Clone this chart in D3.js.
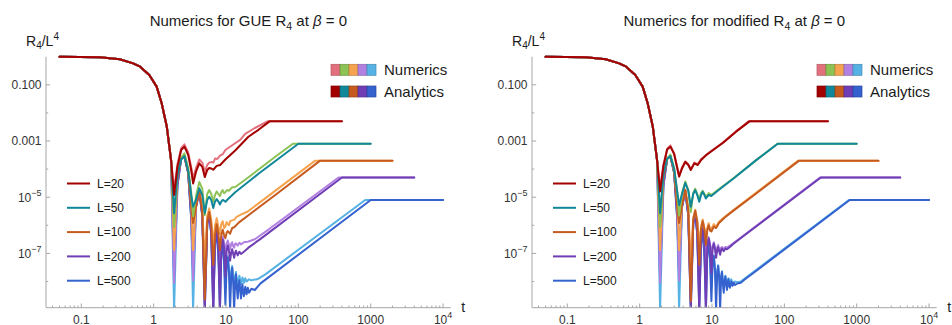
<!DOCTYPE html>
<html><head><meta charset="utf-8">
<script src="https://cdn.jsdelivr.net/npm/d3@7/dist/d3.min.js"></script>
<style>
html,body{margin:0;padding:0;background:#fff;}
svg text{font-family:"Liberation Sans",Arial,Helvetica,sans-serif;}
</style></head><body>
<svg id="chart" width="952" height="325"></svg>
<script>
// ---- data -------------------------------------------------------------
const sizes = [20, 50, 100, 200, 500];
const numericsColors  = ["#e3717d", "#8dc254", "#f6a34f", "#b180e0", "#56b2e4"];
const analyticsColors = ["#a30000", "#11879a", "#c55b1f", "#6f3eb4", "#3562cf"];

const xMajor  = [0.1, 1, 10, 100, 1000, 10000];
const xLabels = [["0.1", ""], ["1", ""], ["10", ""], ["100", ""], ["1000", ""], ["10", "4"]];
const yMajor  = [0.1, 0.001, 1e-5, 1e-7];
const yLabels = [["0.100", ""], ["0.001", ""], ["10", "\u22125"], ["10", "\u22127"]];
const yMinor  = [0.01, 1e-4, 1e-6, 1e-8];

// early-time decay, shared by every curve: [t, R4/L^4]
const head = [[0.05,1.0],[0.18,0.95],[0.34,0.81],[0.52,0.58],[0.65,0.44],[0.87,0.223],
  [1.10,0.086],[1.29,0.022],[1.52,3.2e-3],[1.74,2.1e-4]];

// GUE, numerics
const gueNum20 = [[1.916,1.8e-5],[2.13,1.5e-4],[2.4,5.6e-4],[2.66,7.6e-4],[3.0,3.9e-4],[3.3,1.2e-4],[3.508,4.7e-5],
  [3.85,1.1e-4],[4.27,2.2e-4],[4.7,1.7e-4],[5.087,8e-5],[5.5,1.4e-4],[5.86,1.7e-4],[6.36,1.8e-4],[6.7,1.7e-4],
  [7.07,2.4e-4],[7.6,2.3e-4],[8.28,3.0e-4],[9.0,3.4e-4],[9.8,4.8e-4],[12.6,7.5e-4],[15.7,1.1e-3],[18.4,1.8e-3],
  [25,2.9e-3],[34.7,4.5e-3],[37.5,5e-3],[400,5e-3]];
const gueNum50 = [[1.916,8.7e-7],[2.13,7e-5],[2.4,2.5e-4],[2.66,3.65e-4],[3.0,1.1e-4],[3.3,1.5e-5],[3.508,2.1e-6],
  [3.85,1.1e-5],[4.27,3.5e-5],[4.7,2e-5],[5.087,2.3e-6],[5.5,1.3e-5],[5.86,1.8e-5],[6.25,1.3e-5],[6.662,6.9e-6],
  [7.05,1.2e-5],[7.43,1.6e-5],[7.85,1.3e-5],[8.235,1.1e-5],[8.6,1.5e-5],[9.0,1.8e-5],[9.4,1.4e-5],[9.81,1.5e-5],
  [10.3,1.8e-5],[11,1.7e-5],[12,2.2e-5],[13.4,2.3e-5],[18.4,4.2e-5],[30,1.1e-4],[50,3e-4],[84,8e-4],[1000,8e-4]];
const gueNum100 = [[1.916,1.3e-7],[2.13,5.5e-5],[2.4,2.4e-4],[2.66,2.9e-4],[3.0,8.5e-5],[3.3,6e-6],[3.508,1.3e-7],
  [3.85,6e-6],[4.27,1.9e-5],[4.7,4.5e-6],[5.087,5e-8],[5.5,2.2e-6],[5.86,4e-6],[6.25,1.6e-6],[6.662,2e-7],[7.05,1e-6],
  [7.43,1.8e-6],[7.85,9e-7],[8.235,5e-7],[8.6,1.1e-6],[9.0,1.4e-6],[9.4,8e-7],[9.81,9e-7],[10.2,1.3e-6],[10.58,1.1e-6],
  [11.0,1e-6],[11.38,1.4e-6],[12.2,1.5e-6],[13,1.6e-6],[14,2.0e-6],[16,2.4e-6],[20,3.1e-6],[30,6.8e-6],[171,2e-4],[2000,2e-4]];
const gueNum200 = [[1.916,8.8e-9],[2.13,3.2e-5],[2.4,2.4e-4],[2.66,2.9e-4],[3.0,7.8e-5],[3.3,3e-6],[3.508,1.1e-8],
  [3.85,5e-6],[4.27,1.75e-5],[4.7,2.6e-6],[5.087,2e-9],[5.5,1.3e-6],[5.86,2.8e-6],[6.25,7e-7],[6.662,1e-8],[7.05,3.5e-7],
  [7.43,8e-7],[7.85,3e-7],[8.235,4e-8],[8.6,2.5e-7],[9.0,4e-7],[9.4,2.5e-7],[9.81,1e-7],[10.2,2.2e-7],[10.58,2.9e-7],
  [11.0,2e-7],[11.38,1.4e-7],[11.8,2.2e-7],[12.16,2.5e-7],[12.55,1.8e-7],[12.95,1.6e-7],[13.35,2.2e-7],[13.73,2.3e-7],
  [14.52,1.9e-7],[15.3,2.4e-7],[16.1,2.1e-7],[17.67,2.5e-7],[20,2.6e-7],[25,3.2e-7],[40,7.5e-7],[359,5e-5],[4000,5e-5]];
const gueNum500 = [[1.916,1e-9],[2.13,2.6e-5],[2.4,2.4e-4],[2.66,2.85e-4],[3.0,7.3e-5],[3.3,1.8e-6],[3.508,1e-9],
  [3.85,4.7e-6],[4.27,1.7e-5],[4.7,2.2e-6],[5.087,4e-9],[5.5,1.1e-6],[5.86,2.5e-6],[6.25,5e-7],[6.662,5e-9],[7.05,2.2e-7],
  [7.43,6.1e-7],[7.85,9e-8],[8.235,5e-9],[8.6,1e-7],[9.0,2e-7],[9.4,6e-8],[9.81,6e-9],[10.2,5e-8],[10.58,8e-8],[11.0,3e-8],
  [11.38,6e-9],[11.8,2.2e-8],[12.16,3.6e-8],[12.55,1.5e-8],[12.95,6e-9],[13.35,1.4e-8],[13.73,2.2e-8],[14.1,1e-8],
  [14.52,6e-9],[14.9,1.2e-8],[15.3,1.6e-8],[16.1,8e-9],[16.88,1.4e-8],[17.67,9e-9],[18.45,1.3e-8],[19.24,1e-8],
  [20.8,1.2e-8],[22.4,1.1e-8],[24,1.15e-8],[27,1.2e-8],[35,1.8e-8],[839,8e-6],[10000,8e-6]];

// GUE, analytics
const gueAna20 = [[1.916,1.2e-5],[2.13,1.2e-4],[2.4,4.8e-4],[2.66,6.3e-4],[3.0,3.2e-4],[3.3,9.3e-5],[3.508,3.1e-5],
  [3.85,8.1e-5],[4.27,1.6e-4],[4.7,1.2e-4],[5.087,5.2e-5],[5.5,9.3e-5],[5.86,1.1e-4],[6.25,1.05e-4],[6.66,9.5e-5],
  [7.43,1.3e-4],[8.3,1.4e-4],[9.8,2.2e-4],[13.4,4.6e-4],[20.4,1.42e-3],[28.1,2.5e-3],[40,5e-3],[400,5e-3]];
const gueAna50 = [[1.916,2.7e-6],[2.13,6.2e-5],[2.4,2.2e-4],[2.66,2.9e-4],[3.0,9e-5],[3.3,1.2e-5],[3.508,4.6e-6],
  [3.85,8e-6],[4.27,2.07e-5],[4.7,1.2e-5],[5.087,2.7e-6],[5.5,8e-6],[5.86,1.04e-5],[6.25,8e-6],[6.662,4.1e-6],[7.05,7e-6],
  [7.43,8.5e-6],[7.85,7e-6],[8.235,5.5e-6],[8.6,7e-6],[9.0,8e-6],[9.4,7.5e-6],[9.81,6.9e-6],[10.6,8.5e-6],[13.4,1.5e-5],
  [20,3.4e-5],[28.1,6.8e-5],[100,8e-4],[1000,8e-4]];
const gueAna100 = [[1.916,1.3e-6],[2.13,5e-5],[2.4,2.3e-4],[2.66,2.85e-4],[3.0,8e-5],[3.3,5e-6],[3.508,1.2e-6],
  [3.85,4.5e-6],[4.27,1.7e-5],[4.7,3e-6],[5.087,2.3e-9],[5.5,1.4e-6],[5.86,3e-6],[6.25,1e-6],[6.662,3.9e-8],[7.05,4.5e-7],
  [7.43,1.1e-6],[7.85,5e-7],[8.235,1.3e-7],[8.6,4.5e-7],[9.0,6.9e-7],[9.4,4.5e-7],[9.81,3.5e-7],[10.2,5.5e-7],
  [10.58,6.2e-7],[11.38,5e-7],[12.16,8e-7],[13,8.5e-7],[15,1.25e-6],[20,2.2e-6],[50,1.3e-5],[200,2e-4],[2000,2e-4]];
const gueAna200 = [[1.916,2e-7],[2.13,3e-5],[2.4,2.4e-4],[2.66,2.85e-4],[3.0,7.5e-5],[3.3,2.5e-6],[3.508,2e-7],
  [3.85,4.6e-6],[4.27,1.67e-5],[4.7,2.3e-6],[5.087,1e-9],[5.5,1.1e-6],[5.86,2.6e-6],[6.25,5.5e-7],[6.662,1e-9],[7.05,2.8e-7],
  [7.43,7e-7],[7.85,2e-7],[8.235,1e-9],[8.6,1.5e-7],[9.0,3.1e-7],[9.4,1.6e-7],[9.81,1.5e-8],[10.2,1.3e-7],[10.58,1.9e-7],
  [11.0,1.2e-7],[11.38,5.5e-8],[11.8,1.1e-7],[12.16,1.4e-7],[12.55,1e-7],[12.95,7e-8],[13.35,1.05e-7],[13.73,1.25e-7],
  [14.1,1e-7],[14.52,8.5e-8],[15.3,1.15e-7],[16.1,9.5e-8],[17.67,1.15e-7],[20.4,1.6e-7],[30,3.3e-7],[400,5e-5],[4000,5e-5]];
const gueAna500 = [[1.916,1.5e-8],[2.13,2.6e-5],[2.4,2.4e-4],[2.66,2.85e-4],[3.0,7.2e-5],[3.3,1.75e-6],[3.508,1.7e-8],
  [3.85,4.6e-6],[4.27,1.67e-5],[4.7,2.15e-6],[5.087,1e-9],[5.5,1.07e-6],[5.86,2.47e-6],[6.25,4.9e-7],[6.662,1e-9],
  [7.05,2.1e-7],[7.43,6e-7],[7.85,8e-8],[8.235,1e-9],[8.6,9e-8],[9.0,1.9e-7],[9.4,5e-8],[9.81,1.5e-9],[10.2,4e-8],
  [10.58,7.2e-8],[11.0,2e-8],[11.38,1e-9],[11.8,1.5e-8],[12.16,3.1e-8],[12.55,1e-8],[12.95,1e-9],[13.35,9e-9],
  [13.73,1.8e-8],[14.1,6e-9],[14.52,2.5e-9],[14.9,7e-9],[15.3,1.1e-8],[15.7,5e-9],[16.1,2.5e-9],[16.5,6e-9],[16.88,8e-9],
  [17.3,4e-9],[17.67,3e-9],[18.45,6.5e-9],[19.24,3.5e-9],[20.0,6e-9],[20.8,4e-9],[22.4,5.5e-9],[25,5e-9],[30,8.6e-9],
  [1000,8e-6],[10000,8e-6]];

// modified R4, numerics
const modNum20 = [[1.916,2.2e-5],[2.13,1.4e-4],[2.4,5.3e-4],[2.66,7e-4],[3.0,3.6e-4],[3.3,1.2e-4],[3.508,6e-5],
  [3.85,1.15e-4],[4.27,1.9e-4],[4.7,1.5e-4],[5.087,1.0e-4],[5.7,1.7e-4],[6.36,1.5e-4],[7.07,2.3e-4],[8.28,3.2e-4],
  [10.26,4.9e-4],[14.1,8.8e-4],[21.5,2.2e-3],[32,5e-3],[400,5e-3]];
const modNum50 = [[1.916,8.7e-7],[2.13,7e-5],[2.4,2.4e-4],[2.66,3.3e-4],[3.0,1.05e-4],[3.3,1.6e-5],[3.508,2.2e-6],
  [3.85,1.4e-5],[4.27,3.6e-5],[4.7,1.8e-5],[5.087,3e-6],[5.5,1.4e-5],[5.86,2e-5],[6.25,1.3e-5],[6.662,8e-6],[7.05,1.4e-5],
  [7.43,1.7e-5],[7.85,1.3e-5],[8.235,1e-5],[9.0,1.4e-5],[9.78,1.2e-5],[12,1.8e-5],[20,4.8e-5],[40,2e-4],[80,8e-4],[1000,8e-4]];
const modNum100 = [[1.916,1.3e-7],[2.13,5.5e-5],[2.4,2.4e-4],[2.66,2.9e-4],[3.0,8.5e-5],[3.3,6e-6],[3.508,1.3e-7],
  [3.85,6e-6],[4.27,1.9e-5],[4.7,4e-6],[5.087,5e-8],[5.5,1.8e-6],[5.86,3.6e-6],[6.25,1.5e-6],[6.662,2e-7],[7.05,9e-7],
  [7.43,1.6e-6],[7.85,8e-7],[8.235,4e-7],[8.6,8e-7],[9.0,1.2e-6],[9.4,7e-7],[9.81,7.5e-7],[10.58,1.1e-6],[11.38,9e-7],
  [12.5,1.35e-6],[15,2e-6],[20,3.6e-6],[40,1.4e-5],[155,2e-4],[2000,2e-4]];
const modNum200 = [[1.916,9e-9],[2.13,3.2e-5],[2.4,2.4e-4],[2.66,2.9e-4],[3.0,7.8e-5],[3.3,3e-6],[3.508,1.1e-8],
  [3.85,5e-6],[4.27,1.75e-5],[4.7,2.6e-6],[5.087,2e-9],[5.5,1.3e-6],[5.86,2.9e-6],[6.25,7e-7],[6.662,1e-8],[7.05,3.6e-7],
  [7.43,8e-7],[7.85,2.8e-7],[8.235,4e-8],[8.6,2.2e-7],[9.0,3.8e-7],[9.4,2.2e-7],[9.81,8e-8],[10.2,1.8e-7],[10.58,2.5e-7],
  [11.0,1.7e-7],[11.38,1e-7],[11.8,1.6e-7],[12.16,2e-7],[12.55,1.4e-7],[12.95,1.2e-7],[13.35,1.6e-7],[13.73,1.7e-7],
  [14.52,1.4e-7],[15.3,1.7e-7],[16.1,1.6e-7],[17.67,1.9e-7],[20,2.4e-7],[30,5.2e-7],[310,5e-5],[4000,5e-5]];
const modNum500 = [[1.916,1e-9],[2.13,2.6e-5],[2.4,2.4e-4],[2.66,2.85e-4],[3.0,7.3e-5],[3.3,1.8e-6],[3.508,1e-9],
  [3.85,4.7e-6],[4.27,1.7e-5],[4.7,2.2e-6],[5.087,4e-9],[5.5,1.1e-6],[5.86,2.5e-6],[6.25,5.2e-7],[6.662,5e-9],[7.05,2.3e-7],
  [7.43,6.2e-7],[7.85,9e-8],[8.235,6e-9],[8.6,1.05e-7],[9.0,2.1e-7],[9.4,6.5e-8],[9.81,6e-9],[10.2,5.5e-8],[10.58,8.5e-8],
  [11.0,3e-8],[11.38,6e-9],[11.8,2.3e-8],[12.16,3.8e-8],[12.55,1.6e-8],[12.95,6e-9],[13.35,1.5e-8],[13.73,2.3e-8],
  [14.1,1.1e-8],[14.52,7e-9],[15.3,1.6e-8],[16.1,8e-9],[16.88,1.3e-8],[17.67,9e-9],[18.45,1.2e-8],[19.24,9e-9],
  [20.8,1e-8],[22.4,9.5e-9],[25,1e-8],[28,1.25e-8],[780,8e-6],[10000,8e-6]];

// modified R4, analytics
const modAna20 = [[1.916,1.6e-5],[2.13,1.3e-4],[2.4,5e-4],[2.66,6.3e-4],[3.0,3.4e-4],[3.3,1.1e-4],[3.508,5.4e-5],
  [3.85,1.05e-4],[4.27,1.8e-4],[4.7,1.4e-4],[5.087,9.3e-5],[5.7,1.6e-4],[6.36,1.4e-4],[7.07,2.1e-4],[8.28,3.1e-4],
  [10.26,4.7e-4],[14.1,8.5e-4],[21.5,2.15e-3],[33,5e-3],[400,5e-3]];
const modAna50 = [[1.916,2.7e-6],[2.13,6.5e-5],[2.4,2.3e-4],[2.66,2.9e-4],[3.0,1e-4],[3.3,1.6e-5],[3.508,5.2e-6],
  [3.85,1.3e-5],[4.27,3.2e-5],[4.7,1.7e-5],[5.087,4.6e-6],[5.5,1.3e-5],[5.86,1.8e-5],[6.25,1.2e-5],[6.662,6.9e-6],
  [7.05,1.2e-5],[7.43,1.57e-5],[7.85,1.2e-5],[8.235,9e-6],[9.0,1.2e-5],[9.78,1.1e-5],[12,1.7e-5],[20,4.7e-5],[40,2e-4],
  [81,8e-4],[1000,8e-4]];
const modAna100 = [[1.916,1.3e-6],[2.13,5e-5],[2.4,2.3e-4],[2.66,2.85e-4],[3.0,8e-5],[3.3,5e-6],[3.508,1.2e-6],
  [3.85,5e-6],[4.27,1.8e-5],[4.7,3.5e-6],[5.087,2e-9],[5.5,1.6e-6],[5.86,3.3e-6],[6.25,1.3e-6],[6.662,4e-8],[7.05,7e-7],
  [7.43,1.4e-6],[7.85,7e-7],[8.235,2e-7],[8.6,6.5e-7],[9.0,1e-6],[9.4,6.5e-7],[9.81,6e-7],[10.58,9e-7],[11.38,8e-7],
  [12.5,1.2e-6],[15,1.9e-6],[20,3.4e-6],[40,1.3e-5],[160,2e-4],[2000,2e-4]];
const modAna200 = [[1.916,2e-7],[2.13,3e-5],[2.4,2.4e-4],[2.66,2.85e-4],[3.0,7.5e-5],[3.3,2.5e-6],[3.508,2e-7],
  [3.85,4.6e-6],[4.27,1.7e-5],[4.7,2.4e-6],[5.087,1e-9],[5.5,1.15e-6],[5.86,2.7e-6],[6.25,6e-7],[6.662,1e-9],[7.05,3.2e-7],
  [7.43,7.5e-7],[7.85,2.4e-7],[8.235,1e-9],[8.6,1.8e-7],[9.0,3.4e-7],[9.4,1.8e-7],[9.81,2e-8],[10.2,1.5e-7],[10.58,2.2e-7],
  [11.0,1.4e-7],[11.38,7e-8],[11.8,1.3e-7],[12.16,1.7e-7],[12.55,1.2e-7],[12.95,9e-8],[13.35,1.3e-7],[13.73,1.5e-7],
  [14.52,1.2e-7],[15.3,1.5e-7],[16.1,1.4e-7],[17.67,1.7e-7],[20,2.25e-7],[30,5e-7],[320,5e-5],[4000,5e-5]];
const modAna500 = [[1.916,1.5e-8],[2.13,2.6e-5],[2.4,2.4e-4],[2.66,2.85e-4],[3.0,7.2e-5],[3.3,1.75e-6],[3.508,1.7e-8],
  [3.85,4.6e-6],[4.27,1.67e-5],[4.7,2.15e-6],[5.087,1e-9],[5.5,1.07e-6],[5.86,2.5e-6],[6.25,5e-7],[6.662,1e-9],[7.05,2.2e-7],
  [7.43,6e-7],[7.85,8.5e-8],[8.235,1e-9],[8.6,1e-7],[9.0,2e-7],[9.4,6e-8],[9.81,2e-9],[10.2,5e-8],[10.58,8e-8],[11.0,2.5e-8],
  [11.38,1e-9],[11.8,2e-8],[12.16,3.6e-8],[12.55,1.4e-8],[12.95,1e-9],[13.35,1.3e-8],[13.73,2.2e-8],[14.1,9e-9],[14.52,4e-9],
  [14.9,1e-8],[15.3,1.5e-8],[15.7,8e-9],[16.1,5e-9],[16.5,9e-9],[16.88,1.2e-8],[17.3,7e-9],[17.67,6e-9],[18.45,1e-8],
  [19.24,7e-9],[20,9e-9],[20.8,7.5e-9],[22.4,8.5e-9],[25,9e-9],[28,1.15e-8],[800,8e-6],[10000,8e-6]];

const panels = [
  { x0: 46,  title: ["Numerics for GUE R", "4", " at ", "\u03b2", " = 0"],
    numerics: [gueNum20, gueNum50, gueNum100, gueNum200, gueNum500],
    analytics: [gueAna20, gueAna50, gueAna100, gueAna200, gueAna500] },
  { x0: 532, title: ["Numerics for modified R", "4", " at ", "\u03b2", " = 0"],
    numerics: [modNum20, modNum50, modNum100, modNum200, modNum500],
    analytics: [modAna20, modAna50, modAna100, modAna200, modAna500] }
];

// ---- layout -----------------------------------------------------------
const plotW = 404.7, yTop = 56.7, yBot = 307.7;
const axisCol = "#a6a6a6", labelCol = "#333";
const svg = d3.select("#chart");

panels.forEach((p, pi) => {
  const x = d3.scaleLog().domain([0.0325, 12750]).range([p.x0, p.x0 + plotW]);
  const y = d3.scaleLog().domain([1.17e-9, 1]).range([yBot, yTop]);
  const g = svg.append("g");
  const clipId = "clip" + pi;
  svg.append("defs").append("clipPath").attr("id", clipId)
    .append("rect").attr("x", p.x0).attr("y", yTop - 3).attr("width", plotW).attr("height", yBot - yTop + 3);

  // title
  const cx = p.x0 + plotW / 2;
  const tt = g.append("text").attr("x", cx).attr("y", 26).attr("text-anchor", "middle")
    .attr("font-size", 15).attr("fill", "#1a1a1a");
  tt.append("tspan").text(p.title[0]);
  tt.append("tspan").attr("font-size", 10.5).attr("dy", 3.5).text(p.title[1]);
  tt.append("tspan").attr("dy", -3.5).text(p.title[2]);
  tt.append("tspan").attr("font-style", "italic").text(p.title[3]);
  tt.append("tspan").text(p.title[4]);

  // y axis label
  const yl = g.append("text").attr("x", p.x0 - 20).attr("y", 46).attr("font-size", 14).attr("fill", "#1a1a1a");
  yl.append("tspan").text("R");
  yl.append("tspan").attr("font-size", 10).attr("dy", 3).text("4");
  yl.append("tspan").attr("dy", -3).text("/L");
  yl.append("tspan").attr("font-size", 10).attr("dy", -6).text("4");

  // curves: larger L underneath, numerics under analytics
  const line = d3.line().x(d => x(d[0])).y(d => y(d[1]));
  const cg = g.append("g").attr("clip-path", `url(#${clipId})`).attr("fill", "none")
    .attr("stroke-linejoin", "round").attr("stroke-linecap", "round");
  for (let i = sizes.length - 1; i >= 0; i--) {
    cg.append("path").attr("d", line(head.concat(p.numerics[i])))
      .attr("stroke", numericsColors[i]).attr("stroke-width", 2);
    cg.append("path").attr("d", line(head.concat(p.analytics[i])))
      .attr("stroke", analyticsColors[i]).attr("stroke-width", 2);
  }

  // axes
  g.append("line").attr("x1", p.x0).attr("x2", p.x0).attr("y1", yTop).attr("y2", yBot)
    .attr("stroke", axisCol).attr("stroke-width", 1);
  g.append("line").attr("x1", p.x0).attr("x2", p.x0 + plotW).attr("y1", yBot).attr("y2", yBot)
    .attr("stroke", axisCol).attr("stroke-width", 1);

  // x ticks
  const xMinor = [];
  [0.01, 0.1, 1, 10, 100, 1000, 10000].forEach(d => {
    for (let k = 2; k <= 9; k++) { const v = d * k; if (v > 0.0325 && v < 12750) xMinor.push(v); }
  });
  g.selectAll(".xmin").data(xMinor).enter().append("line")
    .attr("x1", d => x(d)).attr("x2", d => x(d)).attr("y1", yBot).attr("y2", yBot - 2.2)
    .attr("stroke", axisCol);
  g.selectAll(".xmaj").data(xMajor).enter().append("line")
    .attr("x1", d => x(d)).attr("x2", d => x(d)).attr("y1", yBot).attr("y2", yBot - 4.2)
    .attr("stroke", axisCol);
  xMajor.forEach((v, i) => {
    const t = g.append("text").attr("x", x(v)).attr("y", 323.5).attr("text-anchor", "middle")
      .attr("font-size", 12).attr("fill", labelCol);
    t.append("tspan").text(xLabels[i][0]);
    if (xLabels[i][1]) t.append("tspan").attr("font-size", 9).attr("dy", -5.5).text(xLabels[i][1]);
  });
  g.append("text").attr("x", p.x0 + plotW + 12.5).attr("y", 312).attr("text-anchor", "middle")
    .attr("font-size", 14).attr("fill", "#1a1a1a").text("t");

  // y ticks
  g.selectAll(".ymin").data(yMinor).enter().append("line")
    .attr("x1", p.x0).attr("x2", p.x0 + 2.2).attr("y1", d => y(d)).attr("y2", d => y(d))
    .attr("stroke", axisCol);
  g.selectAll(".ymaj").data(yMajor).enter().append("line")
    .attr("x1", p.x0).attr("x2", p.x0 + 4.2).attr("y1", d => y(d)).attr("y2", d => y(d))
    .attr("stroke", axisCol);
  yMajor.forEach((v, i) => {
    const t = g.append("text").attr("x", p.x0 - 4.5).attr("y", y(v) + 4.3).attr("text-anchor", "end")
      .attr("font-size", 12).attr("fill", labelCol);
    t.append("tspan").text(yLabels[i][0]);
    if (yLabels[i][1]) t.append("tspan").attr("font-size", 9).attr("dy", -5.5).text(yLabels[i][1]);
  });

  // colour-block legend
  const lx = p.x0 + 285;
  [[numericsColors, "Numerics", 64.3], [analyticsColors, "Analytics", 86]].forEach(([cols, label, ly]) => {
    cols.forEach((c, j) => {
      g.append("rect").attr("x", lx + j * 9).attr("y", ly).attr("width", 9).attr("height", 11)
        .attr("fill", c).attr("stroke", d3.color(c).darker(0.7)).attr("stroke-width", 0.7);
    });
    g.append("text").attr("x", lx + 53).attr("y", ly + 11).attr("font-size", 15)
      .attr("fill", "#1a1a1a").text(label);
  });

  // system-size legend
  sizes.forEach((L, i) => {
    const ly = 183.5 + i * 24.3;
    g.append("line").attr("x1", p.x0 + 21).attr("x2", p.x0 + 44).attr("y1", ly).attr("y2", ly)
      .attr("stroke", analyticsColors[i]).attr("stroke-width", 2);
    g.append("text").attr("x", p.x0 + 51).attr("y", ly + 4.3).attr("font-size", 12)
      .attr("fill", "#1a1a1a").text("L=" + L);
  });
});
</script>
</body></html>
